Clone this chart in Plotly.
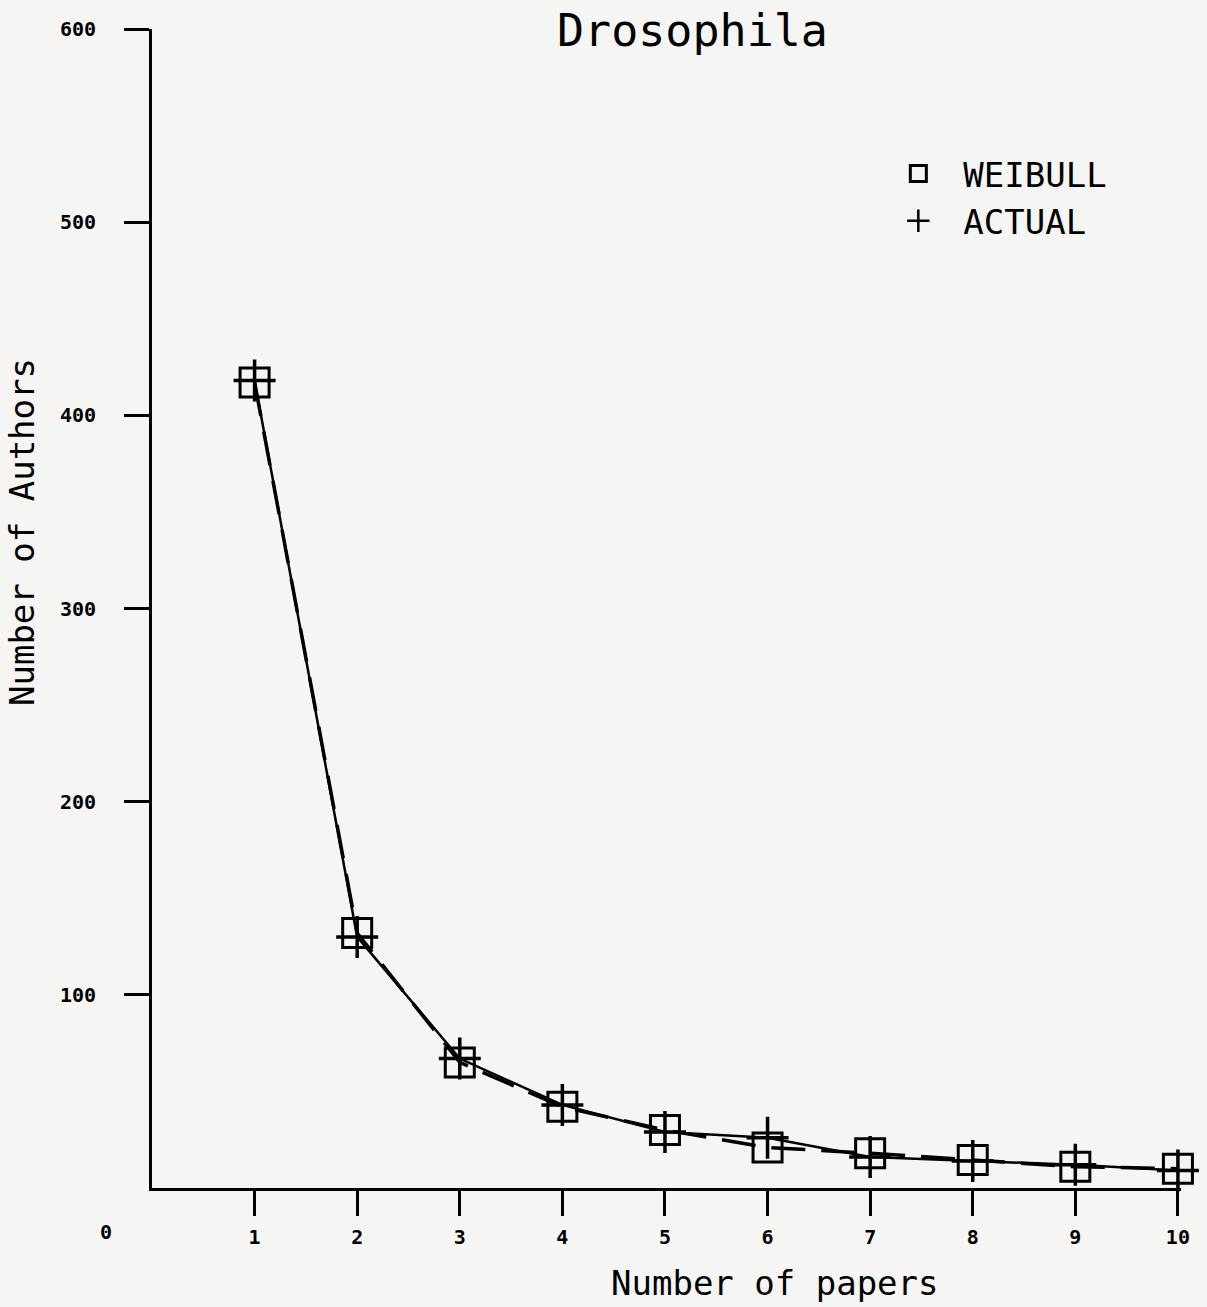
import plotly.graph_objects as go

papers = [1, 2, 3, 4, 5, 6, 7, 8, 9, 10]
weibull = [417, 132, 65, 42, 30, 21, 18, 14.5, 11, 10]
actual = [418, 130, 67, 43, 29, 26, 16, 14, 12, 9]
x_ticks = [1, 2, 3, 4, 5, 6, 7, 8, 9, 10]
y_ticks = [100, 200, 300, 400, 500, 600]

FONT = "DejaVu Sans Mono"
BG = "#f5f5f3"

fig = go.Figure()

# Weibull fit: dashed line with open squares
fig.add_trace(go.Scatter(
    x=papers, y=weibull, mode="lines+markers", name="WEIBULL", showlegend=False,
    line=dict(color="black", width=3.5, dash="34px,16px"),
    marker=dict(symbol="square-open", size=29, color="black", line=dict(width=3, color="black")),
    cliponaxis=False,
))
# Actual: solid line with plus markers
fig.add_trace(go.Scatter(
    x=papers, y=actual, mode="lines+markers", name="ACTUAL", showlegend=False,
    line=dict(color="black", width=2.5),
    marker=dict(symbol="cross-thin-open", size=30, color="black", line=dict(width=3.5, color="black")),
    cliponaxis=False,
))
# legend-only entries
fig.add_trace(go.Scatter(
    x=[None], y=[None], mode="markers", name="WEIBULL",
    marker=dict(symbol="square-open", size=24, color="black", line=dict(width=3, color="black")),
))
fig.add_trace(go.Scatter(
    x=[None], y=[None], mode="markers", name="ACTUAL",
    marker=dict(symbol="cross-thin-open", size=30, color="black", line=dict(width=2.5, color="black")),
))

fig.update_layout(
    width=1207, height=1307,
    margin=dict(l=152, r=26, t=29, b=119),
    paper_bgcolor=BG, plot_bgcolor=BG,
    showlegend=True,
    legend=dict(x=0.701, y=0.9, xanchor="left", yanchor="top",
                font=dict(family=FONT, size=34, color="black"),
                bgcolor="rgba(0,0,0,0)", itemsizing="trace", itemwidth=80),
    annotations=[
        dict(text="Drosophila", x=0.525, y=1.0, xref="paper", yref="paper",
             xanchor="center", yanchor="middle", yshift=-1, showarrow=False,
             font=dict(family=FONT, size=45, color="black")),
        dict(text="Number of papers", x=0.605, y=0, xref="paper", yref="paper",
             xanchor="center", yanchor="middle", yshift=-95, showarrow=False,
             font=dict(family=FONT, size=34, color="black")),
        dict(text="Number of Authors", x=0, y=0.566, xref="paper", yref="paper",
             xanchor="center", yanchor="middle", xshift=-130, textangle=-90, showarrow=False,
             font=dict(family=FONT, size=34, color="black")),
        dict(text="<b>0</b>", x=0, y=0, xref="paper", yref="paper",
             xanchor="center", yanchor="middle", xshift=-46, yshift=-44, showarrow=False,
             font=dict(family=FONT, size=20, color="black")),
    ],
)

fig.update_xaxes(
    range=[0, 10.03], tickvals=x_ticks, ticktext=[f"<b>{v}</b>" for v in x_ticks],
    showline=True, linecolor="black", linewidth=3, mirror=False,
    ticks="outside", ticklen=25, tickwidth=3, tickcolor="black",
    showgrid=False, zeroline=False, ticklabelstandoff=4,
    tickfont=dict(family=FONT, size=20, color="black"),
)
fig.update_yaxes(
    range=[0, 600], tickvals=y_ticks, ticktext=[f"<b>{v}</b>" for v in y_ticks],
    showline=True, linecolor="black", linewidth=3, mirror=False,
    ticks="outside", ticklen=25, tickwidth=3, tickcolor="black",
    showgrid=False, zeroline=False, ticklabelstandoff=24,
    tickfont=dict(family=FONT, size=20, color="black"),
)

fig.write_html("out.html", config={"displayModeBar": False},
               post_script="document.body.style.margin='0px';document.body.style.background='%s';" % BG)
